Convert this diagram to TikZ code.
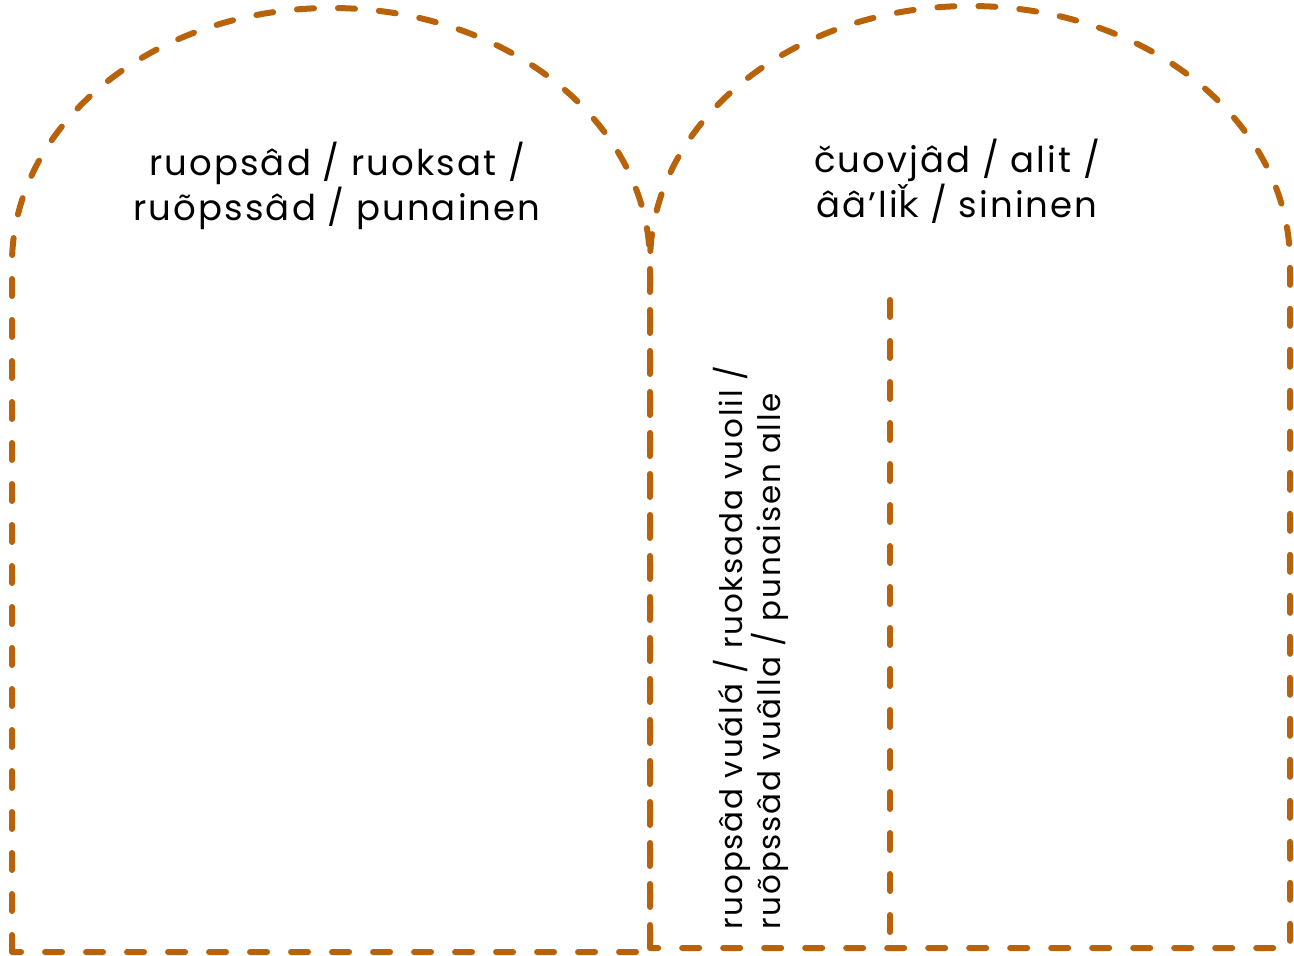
\documentclass[tikz,border=0pt]{standalone}
\usepackage{fontspec}
\setmainfont{Poppins}[LetterSpace=6]
\newfontfamily\kfont{DejaVu Sans}
\begin{document}
\begin{tikzpicture}[x=1pt,y=-1pt,
  dline/.style={draw=brn,line width=6pt,line cap=round,dash pattern=on 17pt off 24pt},
  lbl/.style={font=\fontsize{35.5}{45}\selectfont,align=center,text=black,inner sep=0pt},
  vlbl/.style={font=\fontsize{31}{37}\selectfont,align=left,text=black,inner sep=0pt,rotate=90,anchor=south west}]
\definecolor{brn}{HTML}{B8620A}
\useasboundingbox (0,0) rectangle (1294,956);
\draw[dline] (12,952) -- (12,264) arc[start angle=180,end angle=360,x radius=319,y radius=256] -- (650,952) -- cycle;
\draw[dline] (650,948) -- (650,263) arc[start angle=180,end angle=360,x radius=320,y radius=257] -- (1290,948) -- cycle;
\coordinate (vt) at (890,300);
\coordinate (vb) at (890,948);
\draw[dline] (vt) -- (vb);
\node[lbl] (left) at (337,186) {ruopsâd / ruoksat /\\ruõpssâd / punainen};
\node[lbl] (right) at (957,181) {čuovjâd / alit /\\ââ’li{\kfont ǩ} / sininen};
\node[vlbl] (vert) at (789,930) {ruopsâd vuálá / ruoksada vuolil /\\ruõpssâd vuâlla / punaisen alle};
\end{tikzpicture}
\end{document}
